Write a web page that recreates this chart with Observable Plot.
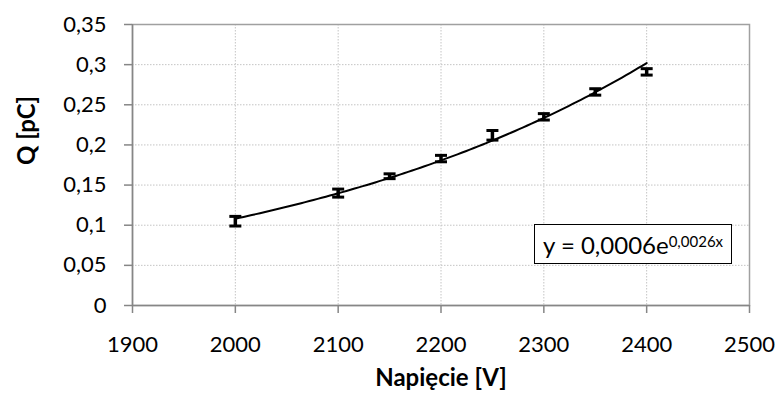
<!DOCTYPE html>
<html>
<head>
<meta charset="utf-8">
<script src="https://cdn.jsdelivr.net/npm/d3@7"></script>
<script src="https://cdn.jsdelivr.net/npm/@observablehq/plot@0.6"></script>
<style>
  html, body { margin: 0; padding: 0; background: #fff; }
  #chart { position: relative; width: 778px; height: 396px; font-family: Lato, sans-serif; }
  #eq {
    position: absolute; left: 534px; top: 224px; width: 198px; height: 40px;
    box-sizing: border-box; border: 1.5px solid #000; background: #fff;
    font-family: Lato, sans-serif; font-size: 24px; color: #000;
    display: flex; align-items: center; justify-content: center; white-space: nowrap;
  }
  #eq sup { font-size: 15px; position: relative; top: -3px; }
</style>
</head>
<body>
<div id="chart"></div>
<script>
// ---- data ----
const voltages = [2000, 2100, 2150, 2200, 2250, 2300, 2350, 2400];
const charges  = [0.105, 0.140, 0.161, 0.183, 0.212, 0.235, 0.266, 0.291];
const errors   = [0.006, 0.005, 0.003, 0.004, 0.006, 0.004, 0.004, 0.004];
const xTicks = [1900, 2000, 2100, 2200, 2300, 2400, 2500];
const yTicks = [0, 0.05, 0.1, 0.15, 0.2, 0.25, 0.3, 0.35];
const xTitle = "Napięcie [V]";
const yTitle = "Q [pC]";
const eqMain = "y = 0,0006e";
const eqExp = "0,0026x";

const data = voltages.map((v, i) => ({x: v, y: charges[i], e: errors[i]}));

// exponential trendline (least squares on ln y, as a spreadsheet does)
const lx = voltages, ly = charges.map(Math.log);
const mx = d3.mean(lx), my = d3.mean(ly);
const b = d3.sum(lx.map((x, i) => (x - mx) * (ly[i] - my))) / d3.sum(lx.map(x => (x - mx) ** 2));
const lnA = my - b * mx;
const trend = d3.range(voltages[0], voltages[voltages.length - 1] + 0.1, 4)
  .map(x => ({x, y: Math.exp(lnA + b * x)}));

const fmt = d => String(d).replace(".", ",");
const cap = { draw(ctx) { ctx.moveTo(-6, 0); ctx.lineTo(6, 0); } };

const plot = Plot.plot({
  width: 778,
  height: 396,
  marginLeft: 132,
  marginRight: 29,
  marginTop: 24,
  marginBottom: 91,
  style: { fontFamily: "Lato, sans-serif", fontSize: "22px", color: "#000", background: "#fff" },
  x: { domain: [1900, 2500] },
  y: { domain: [0, 0.35] },
  marks: [
    Plot.gridX(xTicks, { stroke: "#c4c4c4", strokeOpacity: 1, strokeDasharray: "1.5,1.5" }),
    Plot.gridY(yTicks, { stroke: "#c4c4c4", strokeOpacity: 1, strokeDasharray: "1.5,1.5" }),
    Plot.frame({ stroke: "#a0a0a0", strokeWidth: 1.5 }),
    Plot.axisX(xTicks, { tickSize: 8, tickPadding: 23, stroke: "#868686", strokeWidth: 1.5, label: null, tickFormat: d => String(d), fill: "#000" }),
    Plot.axisY(yTicks, { tickSize: 8, tickPadding: 18, stroke: "#868686", strokeWidth: 1.5, label: null, tickFormat: fmt, fill: "#000" }),
    Plot.ruleY([0], { stroke: "#868686", strokeWidth: 1.5 }),
    Plot.ruleX([1900], { stroke: "#868686", strokeWidth: 1.5 }),
    Plot.line(trend, { x: "x", y: "y", stroke: "#000", strokeWidth: 2 }),
    Plot.ruleX(data, { x: "x", y1: d => d.y - d.e, y2: d => d.y + d.e, stroke: "#000", strokeWidth: 3.5 }),
    Plot.dot(data, { x: "x", y: d => d.y + d.e, symbol: cap, fill: "none", stroke: "#000", strokeWidth: 3 }),
    Plot.dot(data, { x: "x", y: d => d.y - d.e, symbol: cap, fill: "none", stroke: "#000", strokeWidth: 3 }),
    Plot.text([xTitle], { frameAnchor: "bottom", dy: 80, fontWeight: "bold", fontSize: 24, fill: "#000" }),
    Plot.text([yTitle], { frameAnchor: "left", dx: -105, rotate: -90, fontWeight: "bold", fontSize: 24, fill: "#000" })
  ]
});

const chart = document.getElementById("chart");
chart.appendChild(plot);
const eq = document.createElement("div");
eq.id = "eq";
eq.innerHTML = `${eqMain}<sup>${eqExp}</sup>`;
chart.appendChild(eq);
</script>
</body>
</html>
